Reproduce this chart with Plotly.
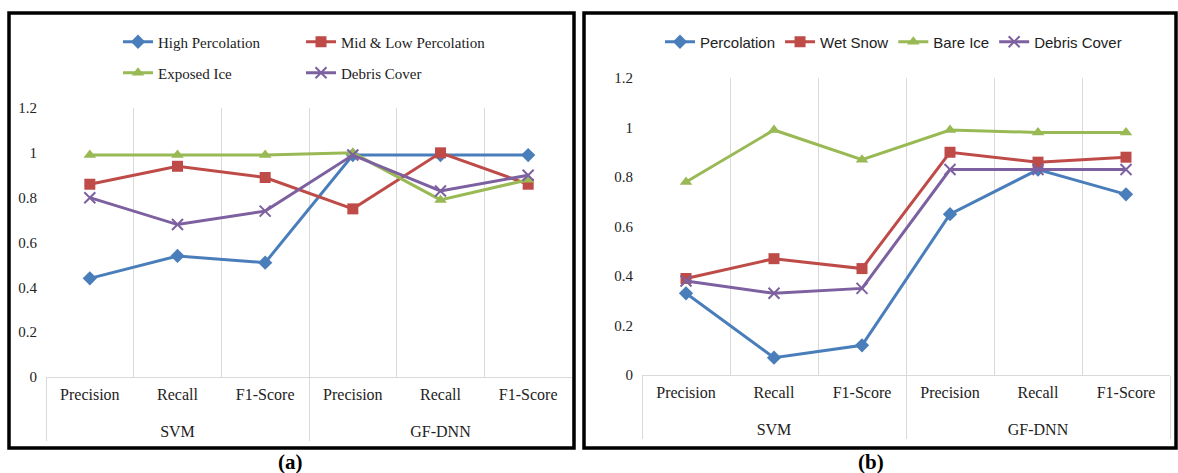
import plotly.graph_objects as go

# ---- data ----
models = ["SVM", "SVM", "SVM", "GF-DNN", "GF-DNN", "GF-DNN"]
metrics = ["Precision", "Recall", "F1-Score", "Precision", "Recall", "F1-Score"]

# panel (a)
a_high_perc = [0.44, 0.54, 0.51, 0.99, 0.99, 0.99]
a_midlow_perc = [0.86, 0.94, 0.89, 0.75, 1.00, 0.86]
a_exposed_ice = [0.99, 0.99, 0.99, 1.00, 0.79, 0.88]
a_debris = [0.80, 0.68, 0.74, 0.99, 0.83, 0.90]

# panel (b)
b_perc = [0.33, 0.07, 0.12, 0.65, 0.83, 0.73]
b_wet_snow = [0.39, 0.47, 0.43, 0.90, 0.86, 0.88]
b_bare_ice = [0.78, 0.99, 0.87, 0.99, 0.98, 0.98]
b_debris = [0.38, 0.33, 0.35, 0.83, 0.83, 0.83]

W, H = 1178, 473
BLUE, RED, GREEN, PURPLE = "#4A7EBB", "#BE4B48", "#98B954", "#7D60A0"
SERIF = "Liberation Serif, Times New Roman, serif"
SANS = "Liberation Sans Narrow, Arial Narrow, Liberation Sans, sans-serif"
GRID = "#D9D9D9"


def px(x):
    return x / W


def py(y):
    return 1 - y / H


def marker(sym, color, size=11):
    if sym == "x-thin":
        return dict(symbol=sym, size=size, color=color, line=dict(width=2, color=color))
    return dict(symbol=sym, size=size, color=color)


fig = go.Figure()
# inner labels get an empty second line so the outer (model) row sits lower, as in the original
inner_labels = [m + "<br> " for m in metrics]
xcat = [models, inner_labels]

# panel (a): one small legend per entry, laid out 2 x 2 as in the original
series_a = [
    ("High Percolation", a_high_perc, BLUE, "diamond", "legend"),
    ("Mid & Low Percolation", a_midlow_perc, RED, "square", "legend2"),
    ("Exposed Ice", a_exposed_ice, GREEN, "triangle-up", "legend3"),
    ("Debris Cover", a_debris, PURPLE, "x-thin", "legend4"),
]
for name, vals, col, sym, lg in series_a:
    fig.add_trace(go.Scatter(x=xcat, y=vals, name=name, mode="lines+markers",
                             line=dict(color=col, width=3), marker=marker(sym, col),
                             xaxis="x", yaxis="y", legend=lg, showlegend=True))

series_b = [
    ("Percolation", b_perc, BLUE, "diamond"),
    ("Wet Snow", b_wet_snow, RED, "square"),
    ("Bare Ice", b_bare_ice, GREEN, "triangle-up"),
    ("Debris Cover", b_debris, PURPLE, "x-thin"),
]
for name, vals, col, sym in series_b:
    fig.add_trace(go.Scatter(x=xcat, y=vals, name=name, mode="lines+markers",
                             line=dict(color=col, width=3), marker=marker(sym, col),
                             xaxis="x2", yaxis="y2", legend="legend5", showlegend=True))

xaxis_common = dict(type="multicategory", range=[-0.5, 5.5], showgrid=True, gridcolor=GRID,
                    gridwidth=1, tickson="boundaries", showline=True, linecolor=GRID, linewidth=1,
                    showdividers=True, dividercolor=GRID, dividerwidth=1, ticks="",
                    automargin=False, ticklabelstandoff=3,
                    tickfont=dict(family=SERIF, size=16, color="#222"), fixedrange=True)
yaxis_common = dict(range=[0, 1.2], dtick=0.2, showgrid=False, zeroline=False,
                    showline=False, ticks="", automargin=False, ticklabelstandoff=8,
                    tickfont=dict(family=SERIF, size=15, color="#222"),
                    fixedrange=True)


def small_legend(xpx, ypx, family, size):
    return dict(orientation="h", x=px(xpx), y=py(ypx), xanchor="left", yanchor="middle",
                font=dict(family=family, size=size, color="#222"), visible=True,
                bgcolor="rgba(0,0,0,0)", borderwidth=0)


fig.update_layout(
    template="none", showlegend=True,
    width=W, height=H, margin=dict(l=0, r=0, t=0, b=0, pad=0), autosize=False,
    paper_bgcolor="white", plot_bgcolor="white",
    xaxis=dict(domain=[px(46), px(572)], anchor="y", **xaxis_common),
    yaxis=dict(domain=[py(377), py(108)], anchor="x", **yaxis_common),
    xaxis2=dict(domain=[px(642), px(1170)], anchor="y2", **xaxis_common),
    yaxis2=dict(domain=[py(375), py(78)], anchor="x2", **yaxis_common),
    legend=small_legend(118, 42, SERIF, 15),
    legend2=small_legend(301, 42, SERIF, 15),
    legend3=small_legend(118, 73, SERIF, 15),
    legend4=small_legend(301, 73, SERIF, 15),
    legend5=small_legend(660, 42, SANS, 15),
    shapes=[
        dict(type="rect", xref="paper", yref="paper", x0=px(9), x1=px(574), y0=py(448), y1=py(13),
             line=dict(color="black", width=3.5)),
        dict(type="rect", xref="paper", yref="paper", x0=px(584), x1=px(1176), y0=py(448), y1=py(13),
             line=dict(color="black", width=3.5)),
    ],
    annotations=[
        dict(text="<b>(a)</b>", x=px(290), y=py(462), xref="paper", yref="paper", showarrow=False,
             xanchor="center", yanchor="middle",
             font=dict(family=SERIF, size=21, color="black")),
        dict(text="<b>(b)</b>", x=px(871), y=py(462), xref="paper", yref="paper", showarrow=False,
             xanchor="center", yanchor="middle",
             font=dict(family=SERIF, size=21, color="black")),
    ],
)

fig.write_html("out.html", config={"displayModeBar": False, "staticPlot": True},
               post_script="document.body.style.margin='0';document.body.style.overflow='hidden';")
